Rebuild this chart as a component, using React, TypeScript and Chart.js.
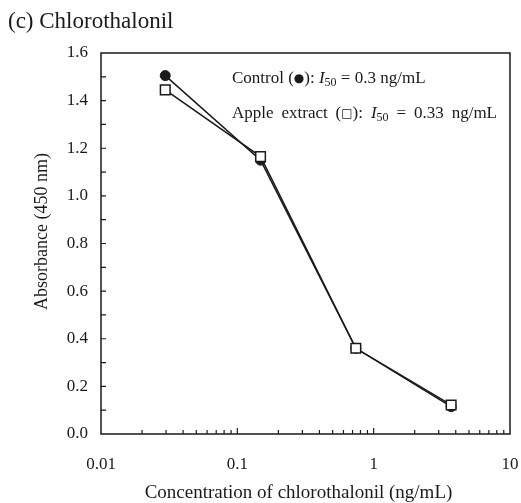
import React, { useEffect, useRef } from 'react';
import { Chart, registerables } from 'chart.js';

Chart.register(...registerables);

// ---- data ----
const concentrations = [0.0296, 0.148, 0.74, 3.7];
const controlAbs = [1.505, 1.15, 0.36, 0.115];
const appleAbs = [1.445, 1.165, 0.36, 0.122];
const xMajorTicks = [0.01, 0.1, 1, 10];
const xTickLabels = ['0.01', '0.1', '1', '10'];
const yMajorTicks = [0, 0.2, 0.4, 0.6, 0.8, 1.0, 1.2, 1.4, 1.6];
const yTickLabels = ['0.0', '0.2', '0.4', '0.6', '0.8', '1.0', '1.2', '1.4', '1.6'];
const yMinorTicks = [0.1, 0.3, 0.5, 0.7, 0.9, 1.1, 1.3, 1.5];
const chartTitle = '(c) Chlorothalonil';
const xAxisTitle = 'Concentration of chlorothalonil (ng/mL)';
const yAxisTitle = 'Absorbance (450 nm)';
const seriesNames = ['Control', 'Apple extract'];
const seriesSymbols = ['\u25CF', '\u25A1'];
const i50Values = ['0.3', '0.33'];

const SERIF = '"Liberation Serif", "Times New Roman", serif';
const INK = '#1a1a1a';

type Seg = { t: string; font: string; dy?: number };

function segWidth(ctx: CanvasRenderingContext2D, segs: Seg[]) {
  let w = 0;
  for (const s of segs) {
    ctx.font = s.font;
    w += ctx.measureText(s.t).width;
  }
  return w;
}

function drawWords(
  ctx: CanvasRenderingContext2D,
  words: Seg[][],
  x: number,
  y: number,
  targetWidth?: number
) {
  const widths = words.map((w) => segWidth(ctx, w));
  const total = widths.reduce((a, b) => a + b, 0);
  ctx.font = `17px ${SERIF}`;
  let gap = ctx.measureText(' ').width;
  if (targetWidth && words.length > 1) gap = (targetWidth - total) / (words.length - 1);
  let cx = x;
  words.forEach((w) => {
    for (const s of w) {
      ctx.font = s.font;
      ctx.fillText(s.t, cx, y + (s.dy || 0));
      cx += ctx.measureText(s.t).width;
    }
    cx += gap;
  });
}

const decorPlugin = {
  id: 'decor',
  beforeDatasetsDraw(chart: any) {
    const { ctx, chartArea: a, scales } = chart;
    const x = scales.x;
    const y = scales.y;
    ctx.save();
    ctx.strokeStyle = INK;
    ctx.lineWidth = 1.5;
    ctx.strokeRect(a.left, a.top, a.right - a.left, a.bottom - a.top);
    ctx.lineWidth = 1.2;
    ctx.beginPath();
    for (const v of yMajorTicks.concat(yMinorTicks)) {
      const py = y.getPixelForValue(v);
      if (py > a.top + 1 && py < a.bottom - 1) {
        ctx.moveTo(a.left, py);
        ctx.lineTo(a.left + 5, py);
      }
    }
    for (let e = -2; e < 1; e++) {
      for (let m = 1; m < 10; m++) {
        const v = m * Math.pow(10, e);
        const px = x.getPixelForValue(v);
        if (px <= a.left + 1 || px >= a.right - 1) continue;
        const len = m === 1 ? 6 : 4;
        ctx.moveTo(px, a.bottom);
        ctx.lineTo(px, a.bottom - len);
      }
    }
    ctx.stroke();
    ctx.restore();
  },
  afterDraw(chart: any) {
    const { ctx } = chart;
    ctx.save();
    ctx.fillStyle = INK;
    ctx.textBaseline = 'alphabetic';
    ctx.textAlign = 'left';
    ctx.font = `23px ${SERIF}`;
    ctx.fillText(chartTitle, 8, 28);

    // axis titles
    ctx.font = `19px ${SERIF}`;
    ctx.textAlign = 'center';
    ctx.fillText(xAxisTitle, 298.5, 498);
    ctx.save();
    ctx.font = `18px ${SERIF}`;
    ctx.translate(47, 231.5);
    ctx.rotate(-Math.PI / 2);
    ctx.fillText(yAxisTitle, 0, 0);
    ctx.restore();
    ctx.textAlign = 'left';

    const n = `17px ${SERIF}`;
    const it = `italic 17px ${SERIF}`;
    const sub = `12px ${SERIF}`;
    const sym = `12px "DejaVu Sans", sans-serif`;
    const line = (k: number): Seg[][] => {
      const nameWords = seriesNames[k].split(' ').map((w) => [{ t: w, font: n }]);
      return [
        ...nameWords,
        [
          { t: '(', font: n },
          { t: seriesSymbols[k], font: sym, dy: -1 },
          { t: '):', font: n },
        ],
        [
          { t: 'I', font: it },
          { t: '50', font: sub, dy: 3 },
        ],
        [{ t: '=', font: n }],
        [{ t: i50Values[k], font: n }],
        [{ t: 'ng/mL', font: n }],
      ];
    };
    drawWords(ctx, line(0), 232, 83);
    drawWords(ctx, line(1), 232, 118, 265);
    ctx.restore();
  },
};

export default function App() {
  const canvasRef = useRef<HTMLCanvasElement | null>(null);

  useEffect(() => {
    const canvas = canvasRef.current;
    if (!canvas) return;
    const controlData = concentrations.map((c, i) => ({ x: c, y: controlAbs[i] }));
    const appleData = concentrations.map((c, i) => ({ x: c, y: appleAbs[i] }));

    const chart = new Chart(canvas, {
      type: 'line',
      data: {
        datasets: [
          {
            label: seriesNames[0],
            data: controlData,
            order: 2,
            borderColor: INK,
            borderWidth: 1.5,
            backgroundColor: INK,
            pointStyle: 'circle',
            pointRadius: 5,
            pointBorderWidth: 1,
            pointBorderColor: INK,
            pointBackgroundColor: INK,
            tension: 0,
          },
          {
            label: seriesNames[1],
            data: appleData,
            order: 1,
            borderColor: INK,
            borderWidth: 1.5,
            backgroundColor: '#ffffff',
            pointStyle: 'rect',
            pointRadius: 6.8,
            pointBorderWidth: 1.5,
            pointBorderColor: INK,
            pointBackgroundColor: '#ffffff',
            tension: 0,
          },
        ],
      },
      options: {
        responsive: false,
        animation: false,
        layout: { padding: { top: 53, right: 11, left: 0, bottom: 0 } },
        plugins: {
          legend: { display: false },
          tooltip: { enabled: false },
          title: { display: false },
        },
        scales: {
          x: {
            type: 'logarithmic',
            position: 'bottom',
            min: 0.01,
            max: 10,
            grid: { display: false, drawTicks: false },
            border: { display: false },
            afterBuildTicks: (scale: any) => {
              scale.ticks = xMajorTicks.map((v) => ({ value: v }));
            },
            afterFit: (scale: any) => {
              scale.height = 69;
              scale.paddingLeft = 0;
              scale.paddingRight = 0;
            },
            ticks: {
              autoSkip: false,
              maxRotation: 0,
              padding: 20,
              color: INK,
              font: { family: SERIF, size: 17 },
              callback: (v: any) => {
                const i = xMajorTicks.findIndex((t) => Math.abs(t - Number(v)) < 1e-9);
                return i >= 0 ? xTickLabels[i] : '';
              },
            },
            title: { display: false, text: xAxisTitle },
          },
          y: {
            type: 'linear',
            position: 'left',
            min: 0,
            max: 1.6,
            grid: { display: false, drawTicks: false },
            border: { display: false },
            afterBuildTicks: (scale: any) => {
              scale.ticks = yMajorTicks.map((v) => ({ value: v }));
            },
            afterFit: (scale: any) => {
              scale.width = 101;
              scale.paddingTop = 0;
              scale.paddingBottom = 0;
            },
            ticks: {
              autoSkip: false,
              padding: 13,
              color: INK,
              font: { family: SERIF, size: 17 },
              callback: (v: any) => {
                const i = yMajorTicks.findIndex((t) => Math.abs(t - Number(v)) < 1e-9);
                return i >= 0 ? yTickLabels[i] : '';
              },
            },
            title: { display: false, text: yAxisTitle },
          },
        },
      },
      plugins: [decorPlugin],
    });

    return () => {
      chart.destroy();
    };
  }, []);

  return (
    <div style={{ position: 'absolute', left: 0, top: 0, width: 521, height: 503, background: '#fff' }}>
      <canvas ref={canvasRef} width={521} height={503} style={{ display: 'block' }} />
    </div>
  );
}
